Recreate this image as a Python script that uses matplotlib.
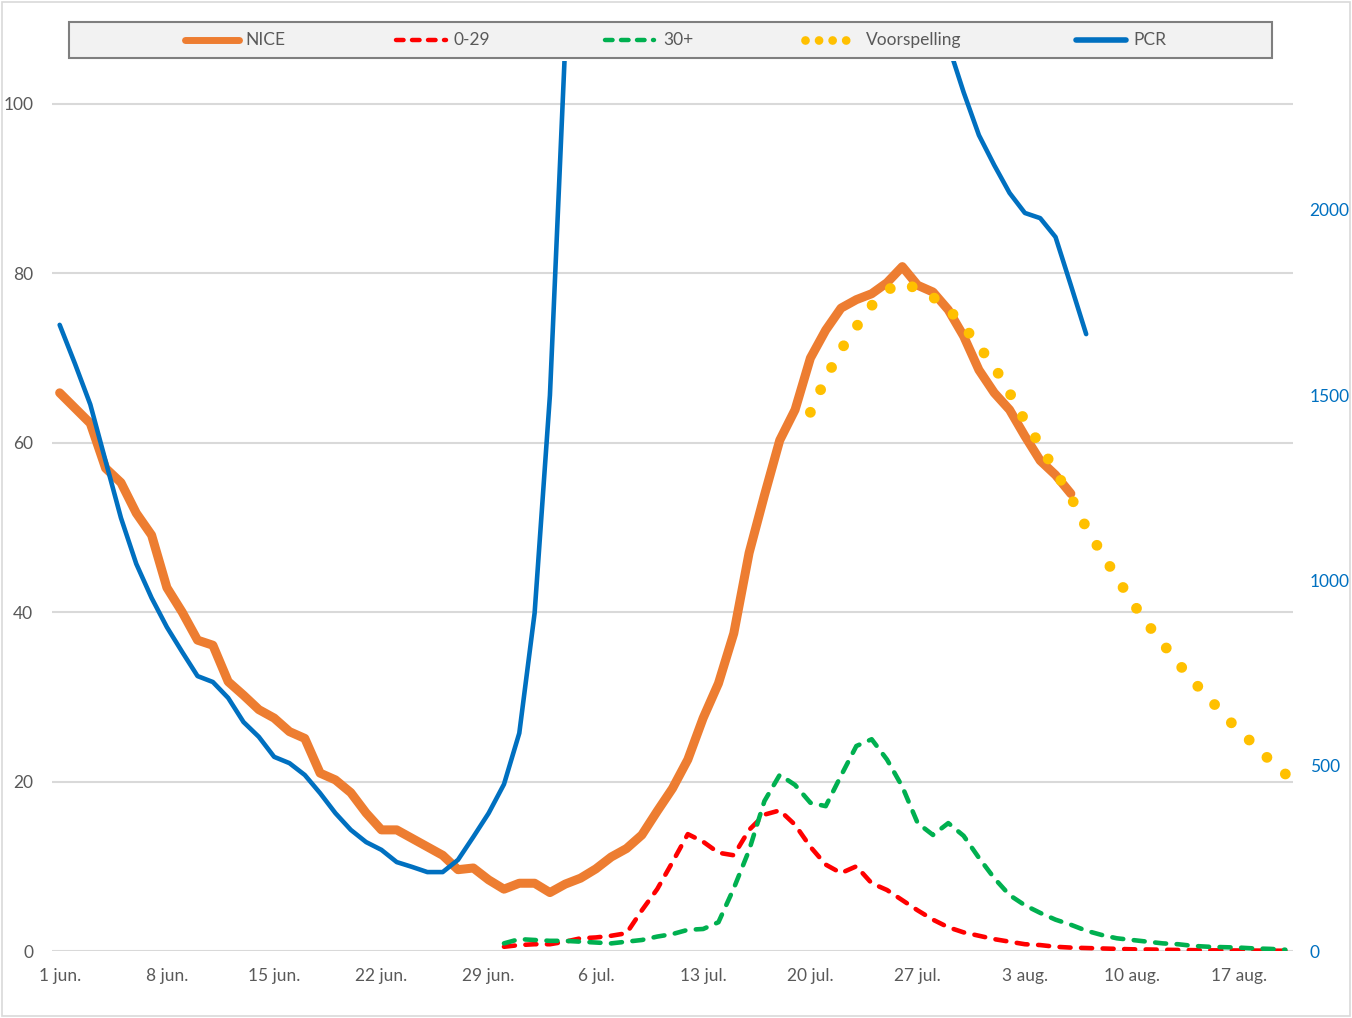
import numpy as np
import matplotlib
matplotlib.use("Agg")
import matplotlib.pyplot as plt
from matplotlib.lines import Line2D
from matplotlib.patches import Rectangle

plt.rcParams['font.family'] = ['Lato', 'DejaVu Sans']

# ---------------- data (day 0 = 1 jun.) ----------------
tick_labels = ['1 jun.', '8 jun.', '15 jun.', '22 jun.', '29 jun.', '6 jul.',
               '13 jul.', '20 jul.', '27 jul.', '3 aug.', '10 aug.', '17 aug.']
tick_days = [0, 7, 14, 21, 28, 35, 42, 49, 56, 63, 70, 77]
n_days = 81

nice_start = 0
nice = [65.9, 64.1, 62.3, 57.0, 55.3, 51.7, 49.1, 42.9, 40.0, 36.7,
        36.1, 31.8, 30.2, 28.5, 27.5, 25.9, 25.1, 21.0, 20.2, 18.7,
        16.3, 14.3, 14.3, 13.3, 12.3, 11.3, 9.6, 9.8, 8.4, 7.3,
        8.0, 8.0, 6.9, 7.9, 8.6, 9.7, 11.1, 12.1, 13.7, 16.5,
        19.2, 22.6, 27.5, 31.6, 37.5, 47.0, 53.8, 60.3, 63.9, 70.0,
        73.3, 75.9, 76.9, 77.6, 78.9, 80.8, 78.6, 77.8, 75.7, 72.6,
        68.6, 65.9, 63.9, 60.8, 57.9, 56.2, 54.0]

age_start = 29
age_0_29 = [0.5, 0.7, 0.8, 0.8, 1.1, 1.5, 1.6, 1.8, 2.1, 4.8,
            7.3, 10.5, 13.8, 12.9, 11.6, 11.3, 14.3, 16.1, 16.6, 14.9,
            12.3, 10.2, 9.2, 10.0, 8.0, 7.2, 6.0, 4.8, 3.7, 2.8,
            2.2, 1.8, 1.4, 1.1, 0.8, 0.7, 0.5, 0.4, 0.35, 0.3,
            0.25, 0.2, 0.18, 0.15, 0.12, 0.1, 0.08, 0.07, 0.06, 0.05,
            0.04, 0.03]
age_30_plus = [0.9, 1.4, 1.3, 1.2, 1.2, 1.1, 1.0, 0.9, 1.1, 1.3,
               1.7, 2.0, 2.5, 2.6, 3.4, 7.4, 11.9, 17.7, 20.8, 19.6,
               17.5, 17.1, 20.7, 24.2, 25.0, 22.6, 19.4, 15.1, 13.7, 15.1,
               13.6, 11.0, 8.6, 6.6, 5.4, 4.5, 3.7, 3.1, 2.4, 1.9,
               1.5, 1.3, 1.1, 0.9, 0.8, 0.6, 0.5, 0.45, 0.4, 0.3,
               0.25, 0.15]

forecast_start = 49
voorspelling = [63.6, 67.6, 71.0, 73.7, 76.2, 78.0, 79.0, 78.1, 77.2, 75.8,
                73.8, 71.4, 69.0, 65.9, 62.6, 59.7, 56.6, 53.6, 50.0, 47.0,
                44.1, 41.2, 38.6, 36.3, 34.0, 31.8, 29.9, 27.8, 26.0, 24.3,
                22.5, 20.9]

pcr_start = 0
pcr = ([1690, 1585, 1475, 1322, 1169, 1045, 953, 874, 807, 742,
        726, 683, 618, 578, 524, 507, 475, 426, 372, 327,
        294, 273, 240, 227, 213, 213, 246, 308, 372, 450,
        588, 912, 1500, 2450]
       + [np.nan] * 24
       + [2446, 2318, 2202, 2121, 2046, 1992, 1978, 1927, 1797, 1665])

left_ticks = [0, 20, 40, 60, 80, 100]
right_ticks = [0, 500, 1000, 1500, 2000]

# ---------------- styling ----------------
C_NICE = '#ED7D31'
C_RED = '#FF0000'
C_GREEN = '#00B050'
C_YEL = '#FFC000'
C_BLUE = '#0070C0'
C_TXT = '#595959'
C_GRID = '#D9D9D9'

W, H = 1352, 1018
DPI = 100
fig = plt.figure(figsize=(W / DPI, H / DPI), dpi=DPI)
L, R, T, B = 52, 1293, 61, 951
ax = fig.add_axes([L / W, 1 - B / H, (R - L) / W, (B - T) / H])
ax2 = ax.twinx()

def days(start, vals):
    return np.arange(start, start + len(vals))

ax.set_xlim(-0.5, n_days - 0.5)
ax.set_ylim(0, (B - T) / 8.47)
ax2.set_ylim(0, (B - T) / 0.3705)

for a in (ax, ax2):
    for s in a.spines.values():
        s.set_visible(False)

ax.set_yticks(left_ticks)
ax.set_yticklabels([str(v) for v in left_ticks])
ax2.set_yticks(right_ticks)
ax2.set_yticklabels([str(v) for v in right_ticks])
ax.set_xticks(tick_days)
ax.set_xticklabels(tick_labels)
ax.tick_params(axis='both', length=0, labelsize=12.5, labelcolor=C_TXT)
ax.tick_params(axis='y', pad=13.5)
ax.tick_params(axis='x', pad=12)
ax2.tick_params(axis='y', length=0, labelsize=12.5, labelcolor=C_BLUE, pad=12)
ax.grid(axis='y', color=C_GRID, linewidth=1.5)
ax.set_axisbelow(True)

dash_kw = dict(dash_capstyle='round', dash_joinstyle='round')

ax.plot(days(age_start, age_0_29), age_0_29, color=C_RED, lw=3.3,
        linestyle=(0, (2.4, 2.3)), zorder=3, **dash_kw)
ax.plot(days(age_start, age_30_plus), age_30_plus, color=C_GREEN, lw=3.3,
        linestyle=(0, (2.4, 2.3)), zorder=3, **dash_kw)
ax.plot(days(nice_start, nice), nice, color=C_NICE, lw=6.5,
        solid_capstyle='round', solid_joinstyle='round', zorder=4)

# round-dot style: spacing chosen so that a dot falls on both ends of the path
fx_days = days(forecast_start, voorspelling)
pts = ax.transData.transform(np.column_stack([fx_days, voorspelling]))
path_len = np.sum(np.hypot(np.diff(pts[:, 0]), np.diff(pts[:, 1])))
dot_lw = 7.8
dot_lw_px = dot_lw * DPI / 72
n_intervals = max(1, int(round(path_len / 24.5)))
gap = path_len / n_intervals / dot_lw_px
ax.plot(fx_days, voorspelling, color=C_YEL, lw=dot_lw,
        linestyle=(0, (0.0001, gap - 0.0001)), zorder=5, **dash_kw)
ax2.plot(days(pcr_start, pcr), pcr, color=C_BLUE, lw=3.3,
         solid_capstyle='round', solid_joinstyle='round', zorder=6)

# ---------------- legend (drawn at the top, Excel style) ----------------
def fx(px):
    return px / W

def fy(py):
    return 1 - py / H

fig.patches.append(Rectangle((fx(69), fy(58)), fx(1272) - fx(69), fy(22) - fy(58),
                             transform=fig.transFigure, facecolor='#F2F2F2',
                             edgecolor='#7F7F7F', linewidth=1.5, zorder=10))
ly = fy(40)
handles = [
    ('NICE', 185, 239, dict(color=C_NICE, lw=5, solid_capstyle='round')),
    ('0-29', 396, 446, dict(color=C_RED, lw=3.2, linestyle=(0, (1.7, 1.9)), dash_capstyle='round')),
    ('30+', 605, 654, dict(color=C_GREEN, lw=3.2, linestyle=(0, (1.7, 1.9)), dash_capstyle='round')),
    ('Voorspelling', 805, 850, dict(color=C_YEL, lw=6.3, linestyle=(0, (0.0001, 1.55)), dash_capstyle='round')),
    ('PCR', 1076, 1126, dict(color=C_BLUE, lw=4, solid_capstyle='round')),
]
text_x = [245, 453, 663, 866, 1133]
for (lab, x0, x1, kw), tx in zip(handles, text_x):
    fig.lines.append(Line2D([fx(x0), fx(x1)], [ly, ly], transform=fig.transFigure,
                            zorder=11, **kw))
    fig.text(fx(tx), ly, lab, ha='left', va='center', fontsize=12.5,
             color=C_TXT, zorder=12)

# chart-area border
fig.patches.append(Rectangle((fx(2), fy(1016)), fx(1350) - fx(2), fy(2) - fy(1016),
                             transform=fig.transFigure, facecolor='none',
                             edgecolor=C_GRID, linewidth=1.2, zorder=0))

fig.savefig('out.png', dpi=DPI)
